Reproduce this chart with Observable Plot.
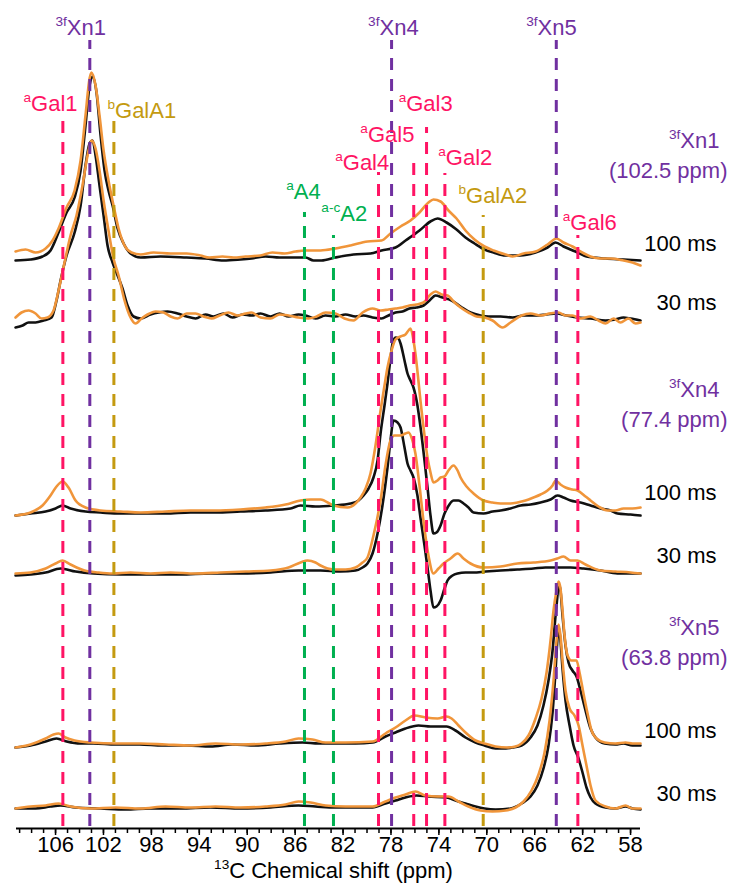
<!DOCTYPE html>
<html>
<head>
<meta charset="utf-8">
<script src="https://cdn.jsdelivr.net/npm/d3@7"></script>
<script src="https://cdn.jsdelivr.net/npm/@observablehq/plot@0.6"></script>
<style>
  html, body { margin: 0; padding: 0; background: #fff; }
  svg text { font-family: "Liberation Sans", Arial, sans-serif; }
</style>
</head>
<body>
<div id="chart"></div>
<script>
// ---------- axis ----------
const xDomain = [109.26, 57.17];
const ppmTicks = [106, 102, 98, 94, 90, 86, 82, 78, 74, 70, 66, 62, 58];
const minorTicks = d3.range(58, 110, 1);

// ---------- colours ----------
const purple = "#7030a0", pink = "#ff1464", gold = "#c49a10", green = "#00b050";
const colorA = "#111111", colorB = "#f0953a";

// ---------- assignments (dashed lines) ----------
const assignNames = ["3fXn1", "3fXn4", "3fXn5", "aGal1", "bGalA1", "aGal3", "aGal5", "aGal4", "aGal2", "aA4", "a-cA2", "bGalA2", "aGal6"];
const assignPpm   = [103.14, 77.95, 64.2, 105.39, 101.13, 75.03, 76.1, 79.04, 73.5, 85.22, 82.8, 70.3, 62.4];
const assignTop   = [788, 788, 788, 710, 710, 701, 673, 656, 655, 616, 593, 613, 593];
const assignColor = [purple, purple, purple, pink, gold, pink, pink, pink, pink, green, green, gold, pink];

// ---------- assignment labels ----------
const labelText = ["^{3f}Xn1", "^{3f}Xn4", "^{3f}Xn5", "^{a}Gal1", "^{b}GalA1", "^{a}Gal3", "^{a}Gal5", "^{a}Gal4", "^{a}Gal2", "^{a}A4", "^{a-c}A2", "^{b}GalA2", "^{a}Gal6"];
const labelPpm  = [103.9, 77.8, 64.6, 106.42, 98.8, 75.1, 78.3, 80.4, 71.8, 85.3, 81.9, 69.5, 61.4];
const labelY    = [801, 801, 801, 725, 718, 725, 694, 666, 671, 637, 615, 633, 606];

// ---------- experiments ----------
const groupNames = ["^{3f}Xn1", "^{3f}Xn4", "^{3f}Xn5"];
const groupPpm = ["(102.5 ppm)", "(77.4 ppm)", "(63.8 ppm)"];
const mixingTimes = ["100 ms", "30 ms"];
const offsets = [[570, 511], [321, 258], [83, 20]]; // [group][time]

// ---------- spectra: [ppm, intensity] ----------
const xn1_100_A = [[109.34,-2],[108.09,-1],[107.09,2],[106.42,8],[105.75,26],[105.08,46],[104.41,61],[103.91,88],[103.5,133],[103.16,173],[102.91,182],[102.58,166],[102.24,123],[101.91,88],[101.58,68],[101.24,53],[100.82,30],[100.32,15],[99.74,5],[98.9,1],[97.24,2],[95.06,1],[93.48,0],[91.98,-2],[90.56,-1],[89.64,0],[88.47,2],[87.3,1],[85.97,1],[85.13,1],[84.46,-2],[83.8,-2],[82.63,1],[81.13,4],[79.71,5],[78.79,8],[77.62,11],[76.78,18],[75.62,28],[74.7,37],[74.11,40],[73.36,36],[72.53,29],[71.78,21],[71.03,15],[70.19,9],[69.44,6],[68.44,3],[67.19,3],[65.93,6],[64.93,11],[64.26,16],[63.6,12],[62.6,7],[61.68,2],[60.09,0],[58.59,-1],[57.17,-2]];
const xn1_100_B = [[109.34,7],[108.5,9],[107.67,6],[106.83,10],[106.25,18],[105.75,30],[105.08,51],[104.41,68],[103.91,98],[103.5,143],[103.16,180],[103,186],[102.66,173],[102.33,143],[101.99,108],[101.58,78],[101.16,53],[100.74,30],[100.24,13],[99.66,6],[98.9,4],[97.82,6],[96.4,5],[95.06,5],[93.9,3],[93.15,1],[92.06,2],[91.14,1],[90.14,2],[88.89,3],[87.89,6],[86.88,5],[85.97,7],[85.13,8],[83.88,8],[82.63,10],[81.38,13],[79.96,17],[78.79,18],[78.04,25],[77.2,32],[76.37,38],[75.62,46],[74.87,56],[74.45,59],[73.86,57],[73.2,48],[72.53,40],[71.78,28],[71.03,19],[70.19,12],[69.44,8],[68.44,4],[67.85,2],[66.93,5],[65.93,7],[64.93,14],[64.18,20],[63.6,16],[62.85,12],[62.18,7],[61.35,2],[60.51,0],[59.67,0],[58.59,-2],[57.84,-4],[57.17,-7]];
const xn1_30_A = [[109.34,-10],[108.75,-8],[108.25,-5],[107.67,-5],[107,-3],[106.33,0],[105.92,17],[105.58,37],[105.08,62],[104.41,85],[103.91,112],[103.5,152],[103.16,174],[102.91,177],[102.66,162],[102.33,132],[101.99,102],[101.66,72],[101.24,55],[100.82,42],[100.41,29],[99.99,12],[99.49,1],[98.9,-1],[98.07,3],[97.4,5],[96.65,6],[95.82,4],[95.06,1],[94.31,-1],[93.48,3],[92.81,1],[91.98,4],[91.23,0],[90.39,3],[89.64,2],[88.89,4],[88.05,1],[87.3,4],[86.55,1],[85.72,3],[85.13,2],[84.3,-1],[83.46,2],[82.63,1],[81.79,3],[80.96,1],[80.29,2],[79.54,0],[78.79,-1],[78.21,2],[77.62,5],[77.04,6],[76.46,9],[75.87,10],[75.28,12],[74.78,17],[74.28,22],[73.7,20],[72.94,17],[72.19,11],[71.36,5],[70.52,2],[69.86,1],[68.85,1],[67.85,0],[66.93,2],[65.93,2],[65.01,3],[64.18,4],[63.35,2],[62.43,0],[61.35,-1],[60.09,-3],[59.26,-2],[58.59,0],[58,-1],[57.17,-3]];
const xn1_30_B = [[109.34,0],[108.84,5],[108.25,7],[107.67,4],[107.17,-1],[106.67,0],[106.17,7],[105.75,27],[105.25,55],[104.75,82],[104.25,102],[103.75,132],[103.33,162],[103,177],[102.66,169],[102.33,147],[101.99,117],[101.58,87],[101.16,59],[100.74,42],[100.24,17],[99.82,2],[99.32,-6],[98.82,-1],[98.32,3],[97.65,6],[96.98,5],[96.4,1],[95.82,-1],[95.06,4],[94.31,4],[93.65,1],[92.98,-1],[92.31,2],[91.56,5],[90.81,2],[90.14,4],[89.64,5],[88.89,0],[88.05,-1],[87.3,3],[86.55,2],[85.72,0],[84.88,-1],[84.21,1],[83.46,5],[82.63,4],[81.88,-1],[81.13,-3],[80.37,5],[79.54,9],[78.87,7],[78.21,8],[77.62,9],[77.04,10],[76.46,12],[75.87,13],[75.28,15],[74.7,23],[74.28,26],[73.78,23],[73.28,22],[72.69,15],[72.19,10],[71.53,5],[70.86,1],[70.19,0],[69.52,-3],[68.69,-10],[68.02,-5],[67.1,2],[66.35,4],[65.51,2],[64.76,4],[64.01,5],[63.43,2],[62.85,2],[62.18,-1],[61.35,1],[60.68,-3],[60.09,-6],[59.42,-1],[58.84,-5],[58.17,-1],[57.59,-6],[57.17,-5]];
const xn4_100_A = [[109.34,-8],[108.09,-6],[106.83,-4],[106,-1],[105.42,2],[104.75,-1],[103.5,-4],[102.24,-5],[100.57,-6],[98.9,-6],[96.82,-6],[94.73,-5],[92.64,-5],[90.56,-4],[88.47,-3],[86.38,-1],[85.55,2],[84.3,1],[82.8,2],[81.38,4],[80.71,7],[80.29,12],[79.87,19],[79.46,30],[79.12,47],[78.87,74],[78.54,102],[78.29,124],[78.04,149],[77.87,164],[77.62,170],[77.37,169],[77.2,164],[76.87,147],[76.62,134],[76.37,127],[76.12,120],[75.79,102],[75.53,80],[75.2,47],[74.95,20],[74.7,-8],[74.45,-26],[74.2,-25],[73.86,-18],[73.53,-6],[73.28,0],[72.78,7],[72.36,7],[71.94,4],[71.53,0],[71.11,-5],[70.27,-6],[69.52,-4],[68.85,-3],[68.02,-1],[67.18,2],[66.35,3],[65.51,5],[64.68,8],[64.1,12],[63.6,10],[63.01,7],[62.18,5],[61.34,2],[60.51,-1],[59.67,-3],[59.09,-6],[58,-7],[57.17,-8]];
const xn4_100_B = [[109.34,-8],[108.09,-5],[107.09,2],[106.42,12],[105.92,21],[105.42,26],[104.92,20],[104.33,7],[103.5,0],[102.24,-3],[100.57,-4],[98.9,-5],[96.82,-4],[94.73,-3],[92.64,-3],[90.56,-2],[88.47,0],[86.8,3],[85.55,7],[84.71,8],[83.88,8],[82.8,2],[81.63,0],[80.96,4],[80.54,10],[80.12,19],[79.71,34],[79.29,62],[78.87,97],[78.54,122],[78.29,140],[77.95,157],[77.62,168],[77.2,171],[76.79,173],[76.54,177],[76.37,179],[76.12,167],[75.96,154],[75.71,127],[75.54,107],[75.2,72],[74.95,50],[74.7,35],[74.45,25],[74.12,27],[73.86,30],[73.53,31],[73.2,37],[72.78,42],[72.44,37],[72.19,30],[71.69,21],[71.11,14],[70.27,7],[69.52,5],[68.85,4],[68.02,4],[67.44,5],[66.77,7],[66.1,10],[65.51,13],[64.93,17],[64.51,22],[64.26,27],[63.85,23],[63.43,20],[62.85,18],[62.43,17],[61.76,11],[61.34,7],[60.68,1],[59.92,-3],[59.26,-3],[58.59,-1],[57.84,-1],[57.17,0]];
const xn4_30_A = [[109.34,-5],[108.09,-4],[106.83,-2],[105.58,2],[104.33,-1],[102.83,-3],[100.57,-4],[98.07,-4],[95.57,-4],[93.06,-3],[90.56,-3],[88.05,-2],[85.72,0],[83.88,0],[82.21,-1],[80.96,0],[80.37,3],[79.96,7],[79.54,17],[79.12,37],[78.71,65],[78.29,103],[78.04,130],[77.79,150],[77.45,148],[77.2,143],[76.87,123],[76.62,107],[76.37,100],[76.12,93],[75.79,75],[75.54,53],[75.2,25],[74.95,3],[74.7,-20],[74.45,-37],[74.2,-36],[73.86,-30],[73.53,-18],[73.28,-10],[72.86,-5],[72.44,-3],[71.78,-2],[71.11,-2],[70.1,-1],[68.85,0],[67.44,1],[66.1,2],[65.1,3],[64.1,3],[63.01,3],[61.93,2],[60.51,0],[59.09,-3],[58,-3],[57.17,-3]];
const xn4_30_B = [[109.34,-3],[108.09,-2],[106.83,2],[106,7],[105.42,10],[104.75,6],[103.58,0],[102.41,-2],[101.24,-3],[99.74,-2],[98.07,-3],[96.4,-2],[94.31,-3],[92.23,-2],[90.14,-1],[88.05,0],[86.55,3],[85.55,8],[84.96,10],[84.3,8],[83.88,5],[82.8,1],[81.79,1],[80.96,3],[80.37,8],[79.96,13],[79.46,35],[78.87,70],[78.46,105],[78.04,130],[77.7,135],[77.2,135],[76.79,137],[76.54,138],[76.21,130],[75.96,117],[75.62,85],[75.29,50],[74.87,15],[74.45,-3],[74.03,2],[73.61,7],[73.03,12],[72.44,17],[71.94,12],[71.36,7],[70.27,3],[68.85,4],[67.44,7],[66.1,8],[64.68,10],[64.1,12],[63.6,14],[63.01,10],[62.43,10],[61.76,6],[60.51,0],[59.26,-1],[58,-2],[57.17,-3]];
const xn5_100_A = [[109.34,-2],[108.09,0],[106.83,4],[105.92,7],[105.08,4],[103.91,2],[102.83,2],[100.99,1],[98.99,1],[97.07,0],[95.06,0],[93.06,-1],[91.23,1],[89.31,0],[87.3,2],[85.38,3],[84.05,2],[82.63,2],[80.96,2],[79.54,3],[78.46,9],[77.62,13],[76.79,17],[75.7,20],[74.7,19],[73.36,19],[72.61,15],[71.78,8],[70.94,3],[70.19,0],[69.27,-3],[68.69,-3],[67.85,-2],[67.1,0],[66.35,8],[65.77,20],[65.27,40],[64.85,65],[64.51,95],[64.26,130],[64.1,150],[64.01,162],[63.85,155],[63.68,130],[63.43,100],[63.18,83],[62.85,75],[62.51,69],[62.18,55],[61.76,35],[61.34,17],[60.93,8],[60.17,2],[59.26,1],[58.59,2],[57.84,0],[57.17,0]];
const xn5_100_B = [[109.34,-2],[108.09,1],[106.83,7],[106.17,11],[105.75,12],[105.17,8],[104.41,5],[103.08,3],[100.91,2],[98.9,2],[96.82,1],[94.73,0],[92.64,2],[90.56,1],[88.47,2],[86.8,4],[85.72,7],[84.55,6],[83.46,3],[81.79,3],[79.54,4],[78.46,12],[77.62,18],[76.79,25],[76.04,30],[75.12,28],[74.11,27],[73.36,29],[72.94,27],[72.36,20],[71.78,13],[70.94,5],[70.19,2],[69.27,-1],[68.27,-2],[67.6,-1],[67.1,2],[66.52,10],[65.93,27],[65.43,47],[65.01,73],[64.68,105],[64.43,135],[64.18,155],[64.01,164],[63.85,157],[63.68,135],[63.51,110],[63.26,90],[62.93,85],[62.51,85],[62.26,73],[61.93,52],[61.59,32],[61.26,15],[60.84,7],[60.17,3],[59.26,2],[58.42,3],[57.84,2],[57.17,2]];
const xn5_30_A = [[109.34,0],[107.67,0],[106.42,2],[105.58,3],[104.33,1],[102.24,0],[100.16,-1],[98.07,0],[95.57,0],[93.06,1],[90.56,0],[88.05,1],[85.72,3],[84.3,2],[82.63,1],[80.96,1],[79.54,1],[78.46,5],[77.62,8],[76.79,11],[75.87,13],[74.87,12],[73.36,11],[72.61,8],[71.78,5],[70.94,2],[70.19,0],[69.27,-1],[68.02,0],[67.1,5],[66.35,12],[65.77,23],[65.27,40],[64.85,63],[64.51,96],[64.26,138],[64.1,170],[64.01,181],[63.85,168],[63.68,140],[63.43,108],[63.09,83],[62.76,63],[62.34,50],[62.01,36],[61.68,21],[61.34,11],[60.93,5],[60.09,1],[59.26,0],[58.42,2],[57.84,0],[57.17,-1]];
const xn5_30_B = [[109.34,0],[108.09,2],[106.83,3],[105.75,5],[104.75,2],[103.08,0],[100.99,1],[98.9,0],[96.82,2],[94.73,1],[92.64,2],[90.56,1],[88.47,2],[86.8,4],[85.72,7],[84.71,6],[83.46,3],[81.79,2],[79.54,2],[78.46,7],[77.62,11],[76.79,14],[75.96,17],[75.12,13],[74.11,12],[73.2,12],[72.36,7],[71.53,2],[70.52,-2],[69.52,-3],[68.44,-2],[67.6,1],[66.93,7],[66.27,18],[65.68,34],[65.18,56],[64.76,88],[64.43,128],[64.18,168],[64.01,184],[63.85,173],[63.68,148],[63.43,118],[63.09,100],[62.68,93],[62.34,83],[62.01,63],[61.68,43],[61.34,23],[60.93,8],[60.09,2],[59.26,0],[58.42,3],[57.84,0],[57.17,0]];

const spectraA = [[xn1_100_A, xn1_30_A], [xn4_100_A, xn4_30_A], [xn5_100_A, xn5_30_A]];
const spectraB = [[xn1_100_B, xn1_30_B], [xn4_100_B, xn4_30_B], [xn5_100_B, xn5_30_B]];

// ---------- build tables ----------
function rowsFor(spectra) {
  const rows = [];
  spectra.forEach((g, gi) => g.forEach((s, ti) => s.forEach(([ppm, v]) =>
    rows.push({id: `${gi}-${ti}`, ppm, y: offsets[gi][ti] + v}))));
  return rows;
}
const rowsA = rowsFor(spectraA);
const rowsB = rowsFor(spectraB);

const assignments = assignNames.map((n, i) => ({name: n, ppm: assignPpm[i], top: assignTop[i], color: assignColor[i]}));
const labels = labelText.map((t, i) => ({text: t, ppm: labelPpm[i], y: labelY[i], color: assignColor[i]}));
const msLabels = [];
offsets.forEach((o, gi) => mixingTimes.forEach((t, ti) => msLabels.push({text: t, y: o[ti] + 15})));
const grpLabels = groupNames.map((n, gi) => ({name: n, ppm: groupPpm[gi], y: offsets[gi][0]}));

const chart = Plot.plot({
  width: 729, height: 889,
  marginLeft: 16, marginRight: 89, marginTop: 0, marginBottom: 61,
  x: {domain: xDomain, axis: null},
  y: {domain: [0, 828], axis: null},
  color: {type: "identity"},
  style: {fontFamily: "Liberation Sans, Arial, sans-serif", fontSize: "22px", background: "#fff", overflow: "visible"},
  marks: [
    Plot.line(rowsA, {x: "ppm", y: "y", z: "id", stroke: colorA, strokeWidth: 2.6, curve: "monotone-x"}),
    Plot.line(rowsB, {x: "ppm", y: "y", z: "id", stroke: colorB, strokeWidth: 2.6, curve: "monotone-x"}),
    Plot.ruleX(assignments, {x: "ppm", y1: 2, y2: "top", stroke: "color", strokeWidth: 3, strokeDasharray: "12,9"}),
    Plot.text(labels, {x: "ppm", y: "y", text: "text", fill: "color", fontSize: 22}),
    Plot.text(msLabels, {y: "y", text: "text", frameAnchor: "right", textAnchor: "end", dx: 76, fontSize: 22, fill: "#000"}),
    Plot.text(grpLabels, {y: d => d.y + 118, text: "name", frameAnchor: "right", textAnchor: "end", dx: 79, fontSize: 22, fill: purple}),
    Plot.text(grpLabels, {y: d => d.y + 88, text: "ppm", frameAnchor: "right", textAnchor: "end", dx: 87, fontSize: 22, fill: purple}),
    Plot.ruleY([0], {stroke: "#000", strokeWidth: 1.8}),
    Plot.axisX(minorTicks, {tickSize: 5, tickFormat: () => "", label: null, strokeWidth: 1.5}),
    Plot.axisX(ppmTicks, {tickSize: 7, tickPadding: 1, fontSize: 22, label: null, strokeWidth: 1.5}),
    Plot.text(["^{13}C Chemical shift (ppm)"], {frameAnchor: "bottom", lineAnchor: "middle", dy: 42, dx: 5, fontSize: 22, fill: "#000"})
  ]
});

// superscripts
const NS = "http://www.w3.org/2000/svg";
chart.querySelectorAll("text").forEach(el => {
  const s = el.textContent;
  if (!s.includes("^{")) return;
  while (el.firstChild) el.removeChild(el.firstChild);
  const re = /\^\{([^}]*)\}|([^\^]+)/g;
  let m, raised = false;
  while ((m = re.exec(s))) {
    const t = document.createElementNS(NS, "tspan");
    if (m[1] !== undefined) {
      t.textContent = m[1];
      t.setAttribute("font-size", "0.62em");
      t.setAttribute("dy", "-0.6em");
      raised = true;
    } else {
      t.textContent = m[2];
      if (raised) { t.setAttribute("dy", "0.372em"); raised = false; }
    }
    el.appendChild(t);
  }
});

document.getElementById("chart").appendChild(chart);
</script>
</body>
</html>
